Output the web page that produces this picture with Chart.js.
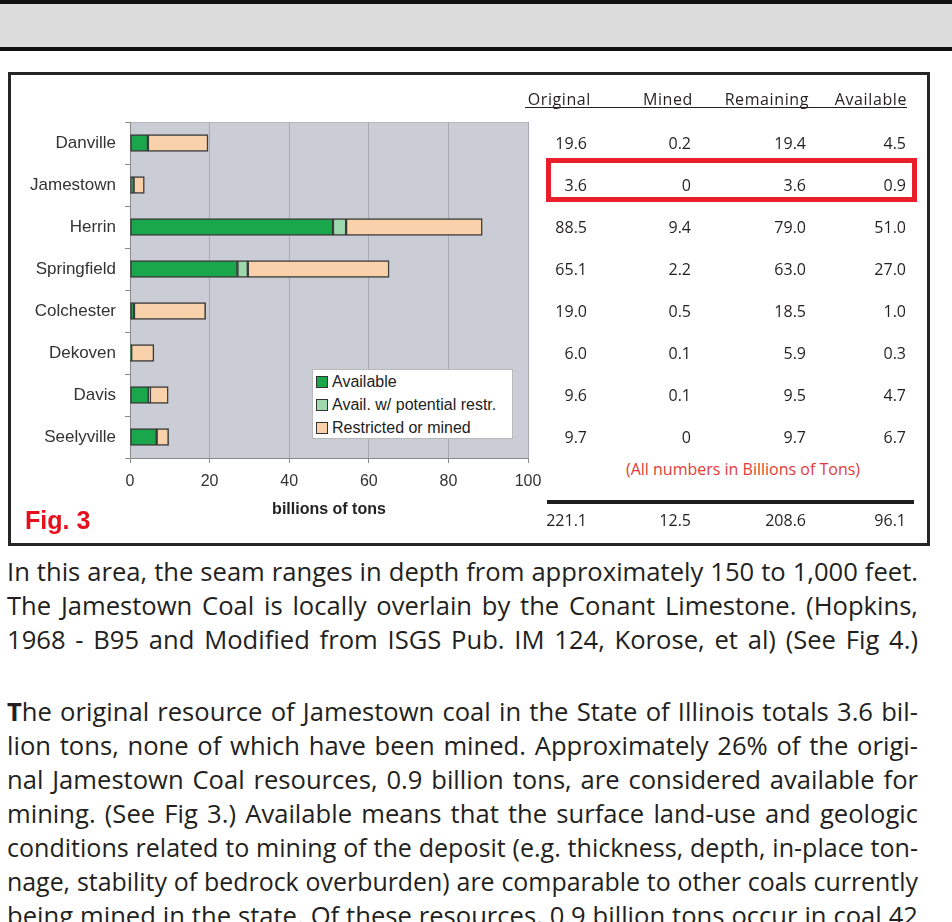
<!DOCTYPE html>
<html><head><meta charset="utf-8">
<script src="https://cdn.jsdelivr.net/npm/chart.js@4/dist/chart.umd.min.js"></script>
<style>
html,body{margin:0;padding:0;background:#fff;width:952px;height:922px;overflow:hidden;position:relative;}
.abs{position:absolute;}
#bar0{left:0;top:0;width:952px;height:4px;background:#111;}
#band{left:0;top:4px;width:952px;height:43px;background:#dcdcdc;}
#bar1{left:0;top:47px;width:952px;height:4px;background:#111;}
#frame{left:8px;top:72px;width:916px;height:468px;border:3px solid #262626;}
#chartWrap{left:10px;top:76px;width:545px;height:470px;}
.fig{left:25px;top:505px;font:bold 25px "Liberation Sans",Arial,sans-serif;color:#e5101b;line-height:30px;}
#legend{left:312px;top:369px;width:199px;height:68px;background:#fff;border:1px solid #b9b9b9;font:16px "Liberation Sans",Arial,sans-serif;color:#222;}
.li{position:absolute;left:3px;height:22px;line-height:22px;white-space:nowrap;}
.sw{display:inline-block;width:10px;height:10px;border:1px solid #333;margin-right:4px;vertical-align:-1px;}
.tb{font:16px "Open Sans",sans-serif;color:#231f20;line-height:20px;white-space:nowrap;text-align:right;}
.hd{letter-spacing:0.6px;}
#uline{left:525px;top:107px;width:382px;height:1px;background:#231f20;}
#redbox{left:546px;top:158px;width:361px;height:34px;border:5px solid #e81f2a;}
#note{left:600px;top:459px;width:286px;text-align:center;font:16px "Open Sans",sans-serif;color:#e33b36;line-height:20px;white-space:nowrap;}
#thick{left:547px;top:500px;width:367px;height:4px;background:#1e1e1e;}
.ln{position:absolute;left:7px;height:34px;line-height:34px;font:25px "Open Sans",sans-serif;color:#231f20;text-align:justify;text-align-last:justify;white-space:normal;transform-origin:0 0;overflow:visible;}
</style></head><body>
<div class="abs" id="bar0"></div>
<div class="abs" id="band"></div>
<div class="abs" id="bar1"></div>
<div class="abs" id="frame"></div>
<div class="abs" id="chartWrap"><canvas id="c" width="545" height="470"></canvas></div>
<div class="abs fig">Fig. 3</div>
<div class="abs" id="legend"></div>
<div class="abs" id="uline"></div>
<div class="abs" id="redbox"></div>
<div class="abs" id="note">(All numbers in Billions of Tons)</div>
<div class="abs" id="thick"></div>
<div id="table"></div>
<div id="text"></div>
<script>
// ---- data ----
const categories = ['Danville','Jamestown','Herrin','Springfield','Colchester','Dekoven','Davis','Seelyville'];
const available = [4.5, 0.9, 51.0, 27.0, 1.0, 0.3, 4.7, 6.7];
const availRestricted = [0, 0, 3.3, 2.6, 0, 0, 0.3, 0];
const restrictedOrMined = [15.1, 2.7, 34.2, 35.5, 18.0, 5.7, 4.6, 3.0];
const seriesNames = ['Available','Avail. w/ potential restr.','Restricted or mined'];
const xTicks = [0, 20, 40, 60, 80, 100];

const tableHeaders = ['Original','Mined','Remaining','Available'];
const tblOriginal = ['19.6','3.6','88.5','65.1','19.0','6.0','9.6','9.7'];
const tblMined = ['0.2','0','9.4','2.2','0.5','0.1','0.1','0'];
const tblRemaining = ['19.4','3.6','79.0','63.0','18.5','5.9','9.5','9.7'];
const tblAvailable = ['4.5','0.9','51.0','27.0','1.0','0.3','4.7','6.7'];
const tblTotals = ['221.1','12.5','208.6','96.1'];

const para1 = [
 'In this area, the seam ranges in depth from approximately 150 to 1,000 feet.',
 'The Jamestown Coal is locally overlain by the Conant Limestone. (Hopkins,',
 '1968 - B95 and Modified from ISGS Pub. IM 124, Korose, et al) (See Fig 4.)'
];
const para2 = [
 'The original resource of Jamestown coal in the State of Illinois totals 3.6 bil-',
 'lion tons, none of which have been mined.   Approximately 26% of the origi-',
 'nal Jamestown Coal resources, 0.9 billion tons, are considered available for',
 'mining.  (See Fig 3.)  Available means that the surface land-use and geologic',
 'conditions related to mining of the deposit (e.g. thickness, depth, in-place ton-',
 'nage, stability of bedrock overburden) are comparable to other coals currently',
 'being mined in the state.  Of these resources, 0.9 billion tons occur in coal 42'
];

const colors = ['#1aa64b','#9fd7ae','#f9d1ab'];

// ---- chart ----
const plotBg = {
  id:'plotBg',
  beforeDraw(chart){
    const {ctx, chartArea:{left,top,right,bottom}} = chart;
    ctx.save();
    ctx.fillStyle = '#cacdd5';
    ctx.fillRect(left, top, right-left, bottom-top);
    ctx.strokeStyle = '#b3b6bd';
    ctx.lineWidth = 1;
    ctx.beginPath(); ctx.moveTo(left, top+0.5); ctx.lineTo(right, top+0.5); ctx.stroke();
    ctx.restore();
  }
};

const axisFont = {family:'"Liberation Sans", Arial, sans-serif', size:16};
new Chart(document.getElementById('c'), {
  type:'bar',
  data:{
    labels: categories,
    datasets: [available, availRestricted, restrictedOrMined].map((d,i)=>({
      label: seriesNames[i], data: d, backgroundColor: colors[i],
      borderColor:'#3a3a3a', borderWidth:1.5, borderSkipped:false, barThickness:17
    }))
  },
  options:{
    indexAxis:'y', responsive:false, animation:false,
    layout:{padding:{top:46, right:27, left:0, bottom:0}},
    plugins:{legend:{display:false}, tooltip:{enabled:false}},
    scales:{
      x:{
        stacked:true, min:0, max:100,
        afterBuildTicks(s){ s.ticks = xTicks.map(v=>({value:v})); },
        afterFit(s){ s.height = 88; },
        ticks:{color:'#333', font:axisFont, padding:9},
        grid:{color:'#a7aab2', lineWidth:1, tickLength:5, tickColor:'#8a8a8a'},
        border:{color:'#8a8a8a', width:1},
        title:{display:true, text:'billions of tons', color:'#222',
          font:{family:'"Liberation Sans", Arial, sans-serif', size:16, weight:'bold'},
          padding:{top:0, bottom:27}}
      },
      y:{
        stacked:true,
        afterFit(s){ s.width = 120; },
        ticks:{color:'#333', font:{family:'"Liberation Sans", Arial, sans-serif', size:17}, padding:9},
        grid:{display:true, drawOnChartArea:false, offset:true, tickLength:5, tickColor:'#8a8a8a'},
        border:{color:'#8a8a8a', width:1}
      }
    }
  },
  plugins:[plotBg]
});

// ---- legend (HTML) ----
const lg = document.getElementById('legend');
seriesNames.forEach((n,i)=>{
  const d = document.createElement('div');
  d.className='li'; d.style.top = (1 + i*23) + 'px';
  d.innerHTML = '<span class="sw" style="background:'+colors[i]+'"></span>';
  d.appendChild(document.createTextNode(n));
  lg.appendChild(d);
});

// ---- table ----
const tbl = document.getElementById('table');
function cell(txt, right, cy, cls){
  const d = document.createElement('div');
  d.className = 'abs tb ' + (cls||'');
  d.textContent = txt;
  d.style.left = (right-120) + 'px'; d.style.width = '120px';
  d.style.top = (cy-10) + 'px';
  tbl.appendChild(d);
}
const hdRight = [591, 693, 809, 907];
const colRight = [587, 691, 806, 906];
tableHeaders.forEach((h,i)=>cell(h, hdRight[i], 99, 'hd'));
[tblOriginal, tblMined, tblRemaining, tblAvailable].forEach((col,ci)=>{
  col.forEach((v,ri)=>cell(v, colRight[ci], 143 + ri*42));
});
tblTotals.forEach((v,i)=>cell(v, colRight[i], 520));

// ---- text: justified lines, horizontally condensed to fit ----
const tx = document.getElementById('text');
const TARGET = 911;
const mctx = document.createElement('canvas').getContext('2d');
function natural(s){
  mctx.font = '25px "Open Sans"';
  return mctx.measureText(s.replace(/\s+/g,' ')).width;
}
function addLine(s, top, boldFirst, baseScale){
  const d = document.createElement('div');
  d.className='ln'; d.style.top = top + 'px';
  const sc = Math.min(baseScale, TARGET / (natural(s) + 4));
  d.style.width = (TARGET / sc) + 'px';
  d.style.transform = 'scaleX(' + sc + ')';
  if (boldFirst){
    const b = document.createElement('b'); b.textContent = s[0];
    d.appendChild(b); d.appendChild(document.createTextNode(s.slice(1)));
  } else d.textContent = s;
  tx.appendChild(d);
}
function build(){
  tx.innerHTML='';
  const baseScale = Math.min(1.15, TARGET / natural(para1[0]) * 0.995);
  para1.forEach((s,i)=>addLine(s, 554 + i*34, false, baseScale));
  para2.forEach((s,i)=>addLine(s, 694 + i*34, i===0, baseScale));
}
build();
if (document.fonts && document.fonts.ready) document.fonts.ready.then(build);
</script>
</body></html>
